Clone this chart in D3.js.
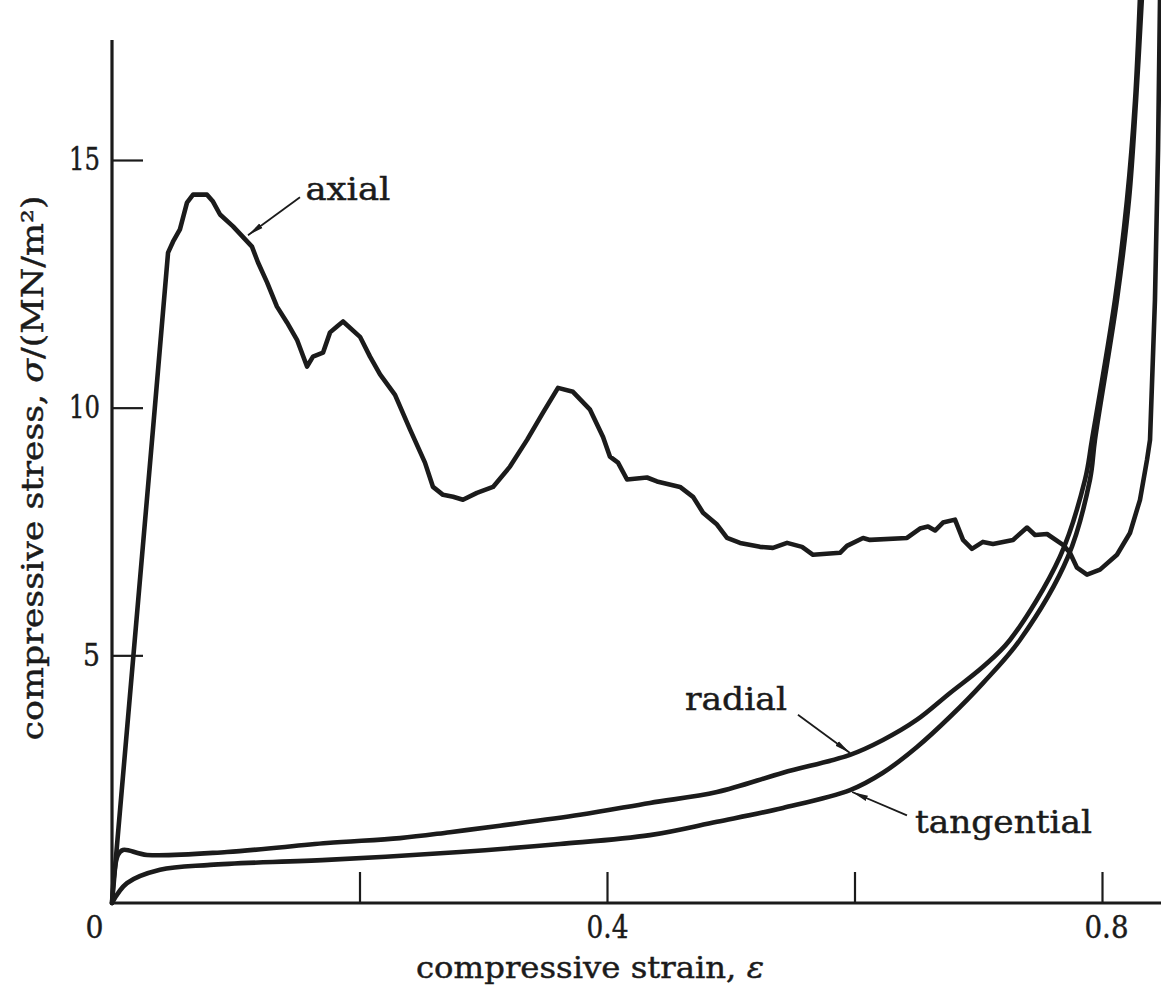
<!DOCTYPE html>
<html>
<head>
<meta charset="utf-8">
<script src="https://cdn.jsdelivr.net/npm/d3@7/dist/d3.min.js"></script>
<style>
  html, body { margin: 0; padding: 0; background: #fff; }
  svg { display: block; }
  text { font-family: "DejaVu Serif", "Liberation Serif", serif; fill: #1b1b1b; stroke: #1b1b1b; stroke-width: 0.45px; }
</style>
</head>
<body>
<svg id="chart" width="1161" height="994"></svg>
<script>
// Stress–strain response of a foam in compression: axial, radial and tangential directions.
const xTicks = [0, 0.2, 0.4, 0.6, 0.8];
const xTickLabels = ["0", "", "0.4", "", "0.8"];
const yTicks = [5, 10, 15];
const yTickLabels = ["5", "10", "15"];

const axialStrain = [0, 0.0331, 0.0453, 0.0493, 0.0549, 0.0606, 0.0655, 0.0768, 0.0816, 0.0873, 0.0978,
  0.1131, 0.1180, 0.1253, 0.1333, 0.1414, 0.1495, 0.1576, 0.1624, 0.1705, 0.1762, 0.1818, 0.1867,
  0.2004, 0.2085, 0.2166, 0.2287, 0.2408, 0.2529, 0.2594, 0.2675, 0.2756, 0.2836, 0.2949, 0.3079,
  0.3216, 0.3354, 0.3483, 0.3604, 0.3725, 0.3863, 0.3968, 0.4024, 0.4089, 0.4162, 0.4323, 0.4404,
  0.4590, 0.4695, 0.4776, 0.4889, 0.4970, 0.5075, 0.5236, 0.5341, 0.5455, 0.5576, 0.5665, 0.5883,
  0.5939, 0.6069, 0.6125, 0.6424, 0.6529, 0.6594, 0.6651, 0.6715, 0.6812, 0.6877, 0.6949, 0.7038,
  0.7119, 0.7281, 0.7394, 0.7459, 0.7556, 0.7685, 0.7741, 0.7798, 0.7879, 0.7984, 0.8121, 0.8226,
  0.8307, 0.8364, 0.8388, 0.8428, 0.8453, 0.8469];
const axialStress = [0, 9.56, 13.13, 13.35, 13.60, 14.14, 14.30, 14.30, 14.16, 13.90, 13.66,
  13.25, 12.93, 12.53, 12.04, 11.72, 11.37, 10.83, 11.03, 11.11, 11.52, 11.64, 11.74,
  11.43, 11.03, 10.67, 10.26, 9.56, 8.89, 8.40, 8.24, 8.20, 8.14, 8.28, 8.40,
  8.81, 9.35, 9.90, 10.40, 10.32, 9.96, 9.41, 9.01, 8.89, 8.55, 8.59, 8.51,
  8.40, 8.20, 7.88, 7.64, 7.37, 7.27, 7.19, 7.17, 7.27, 7.19, 7.03, 7.07,
  7.21, 7.37, 7.33, 7.37, 7.56, 7.60, 7.52, 7.68, 7.74, 7.33, 7.15, 7.29,
  7.25, 7.33, 7.58, 7.43, 7.45, 7.23, 7.07, 6.77, 6.63, 6.73, 7.03, 7.47,
  8.14, 8.95, 9.35, 12.18, 15.21, 18.3];

const radialStrain = [0, 0.0048, 0.0089, 0.0283, 0.0929, 0.1737, 0.2327, 0.2731, 0.3135, 0.3782,
  0.4347, 0.4889, 0.5422, 0.5964, 0.6230, 0.6505, 0.6772, 0.7038, 0.7256, 0.7660, 0.7863, 0.7919,
  0.8105, 0.8202, 0.8267, 0.8307];
const radialStress = [0, 0.97, 1.07, 0.97, 1.03, 1.21, 1.31, 1.43, 1.56, 1.78,
  2.02, 2.24, 2.63, 2.99, 3.29, 3.70, 4.24, 4.77, 5.31, 6.99, 8.55, 9.35,
  12.18, 14.2, 16.2, 18.3];

const tangentialStrain = [0, 0.0121, 0.0388, 0.0792, 0.1737, 0.2812, 0.3620, 0.4347, 0.4889, 0.5422,
  0.5964, 0.6230, 0.6505, 0.6772, 0.7038, 0.7337, 0.7725, 0.7903, 0.7943, 0.8121, 0.8218, 0.8275, 0.8323];
const tangentialStress = [0, 0.40, 0.67, 0.77, 0.87, 1.03, 1.19, 1.37, 1.64, 1.92,
  2.28, 2.63, 3.15, 3.76, 4.44, 5.31, 6.99, 8.55, 9.35, 12.18, 14.2, 16.2, 18.3];

// Curve annotations: label text, label anchor, arrow start and arrow tip (data units)
const annotations = [
  { text: "axial", x: 0.1563, y: 14.19, len: 85, from: [0.1519, 14.25], to: [0.1099, 13.48] },
  { text: "radial", x: 0.4630, y: 3.90, len: 102, from: [0.5543, 3.80], to: [0.5964, 3.03] },
  { text: "tangential", x: 0.6489, y: 1.41, len: 177, from: [0.6424, 1.77], to: [0.5981, 2.24] }
];

const svg = d3.select("#chart");
const W = 1161, H = 994;

const x = d3.scaleLinear().domain([0, 0.8]).range([112, 1102]);
const y = d3.scaleLinear().domain([0, 15]).range([903, 160]);

const ink = "#1b1b1b";

// Axis lines
const xEnd = x.invert(W);
const yTop = y.invert(40);
svg.append("line").attr("x1", x(0)).attr("x2", x(xEnd)).attr("y1", y(0)).attr("y2", y(0))
  .attr("stroke", ink).attr("stroke-width", 3.2);
svg.append("line").attr("x1", x(0)).attr("x2", x(0)).attr("y1", y(0) + 1.5).attr("y2", y(yTop))
  .attr("stroke", ink).attr("stroke-width", 3.2);

// Bottom axis: inward ticks
const xAxis = d3.axisBottom(x).tickValues(xTicks).tickSize(-31).tickPadding(12)
  .tickFormat((d, i) => xTickLabels[i]);
const gx = svg.append("g").attr("transform", `translate(0,${y(0)})`).call(xAxis);
gx.select(".domain").remove();
gx.selectAll(".tick line").attr("stroke", ink).attr("stroke-width", 2.2)
  .filter(d => d === 0).remove();
gx.selectAll(".tick text").attr("font-size", 31).attr("fill", ink)
  .attr("dy", "0.75em")
  .attr("lengthAdjust", "spacingAndGlyphs")
  .each(function (d, i) {
    const lens = [18, 0, 42, 0, 44];
    if (lens[i]) d3.select(this).attr("textLength", lens[i]);
  });
gx.selectAll(".tick").filter(d => d === 0).select("text").attr("x", -18);
gx.selectAll(".tick").filter(d => d === 0.8).select("text").attr("x", 4);

// Left axis: inward ticks
const yAxis = d3.axisLeft(y).tickValues(yTicks).tickSize(-31).tickPadding(12)
  .tickFormat((d, i) => yTickLabels[i]);
const gy = svg.append("g").attr("transform", `translate(${x(0)},0)`).call(yAxis);
gy.select(".domain").remove();
gy.selectAll(".tick line").attr("stroke", ink).attr("stroke-width", 2.2);
gy.selectAll(".tick text").attr("font-size", 31).attr("fill", ink)
  .attr("lengthAdjust", "spacingAndGlyphs")
  .each(function (d) {
    d3.select(this).attr("textLength", String(d).length === 1 ? 17 : 31);
  });

// Axis titles (Greek symbols set in italic)
const xTitle = svg.append("text").attr("x", 590).attr("y", 978).attr("text-anchor", "middle")
  .attr("font-size", 30).attr("textLength", 348).attr("lengthAdjust", "spacingAndGlyphs");
xTitle.append("tspan").text("compressive strain, ");
xTitle.append("tspan").attr("font-style", "italic").text("ε");

const yTitle = svg.append("text").attr("transform", "translate(43,468) rotate(-90)")
  .attr("text-anchor", "middle").attr("font-size", 30)
  .attr("textLength", 545).attr("lengthAdjust", "spacingAndGlyphs");
yTitle.append("tspan").text("compressive stress, ");
yTitle.append("tspan").attr("font-style", "italic").text("σ");
yTitle.append("tspan").text("/(MN/m²)");

// Curves
const line = d3.line().x(d => x(d[0])).y(d => y(d[1]));
const series = [
  d3.zip(axialStrain, axialStress),
  d3.zip(radialStrain, radialStress),
  d3.zip(tangentialStrain, tangentialStress)
];
const smooth = [d3.curveLinear, d3.curveCatmullRom.alpha(0.5), d3.curveCatmullRom.alpha(0.5)];
series.forEach((pts, i) => {
  svg.append("path").attr("d", line.curve(smooth[i])(pts))
    .attr("fill", "none").attr("stroke", ink).attr("stroke-width", 4.6)
    .attr("stroke-linejoin", "round").attr("stroke-linecap", "round");
});

// Labels with arrows
const defs = svg.append("defs");
defs.append("marker").attr("id", "tip").attr("viewBox", "0 0 16 8")
  .attr("refX", 16).attr("refY", 4).attr("markerWidth", 16).attr("markerHeight", 8)
  .attr("markerUnits", "userSpaceOnUse").attr("orient", "auto")
  .append("path").attr("d", "M0,1.2 L16,4 L0,6.8 Z").attr("fill", ink).attr("stroke", "none");

annotations.forEach(a => {
  svg.append("text").attr("x", x(a.x)).attr("y", y(a.y)).attr("font-size", 31)
    .attr("textLength", a.len).attr("lengthAdjust", "spacingAndGlyphs").text(a.text);
  svg.append("line")
    .attr("x1", x(a.from[0])).attr("y1", y(a.from[1]))
    .attr("x2", x(a.to[0])).attr("y2", y(a.to[1]))
    .attr("stroke", ink).attr("stroke-width", 1.8).attr("marker-end", "url(#tip)");
});
</script>
</body>
</html>
